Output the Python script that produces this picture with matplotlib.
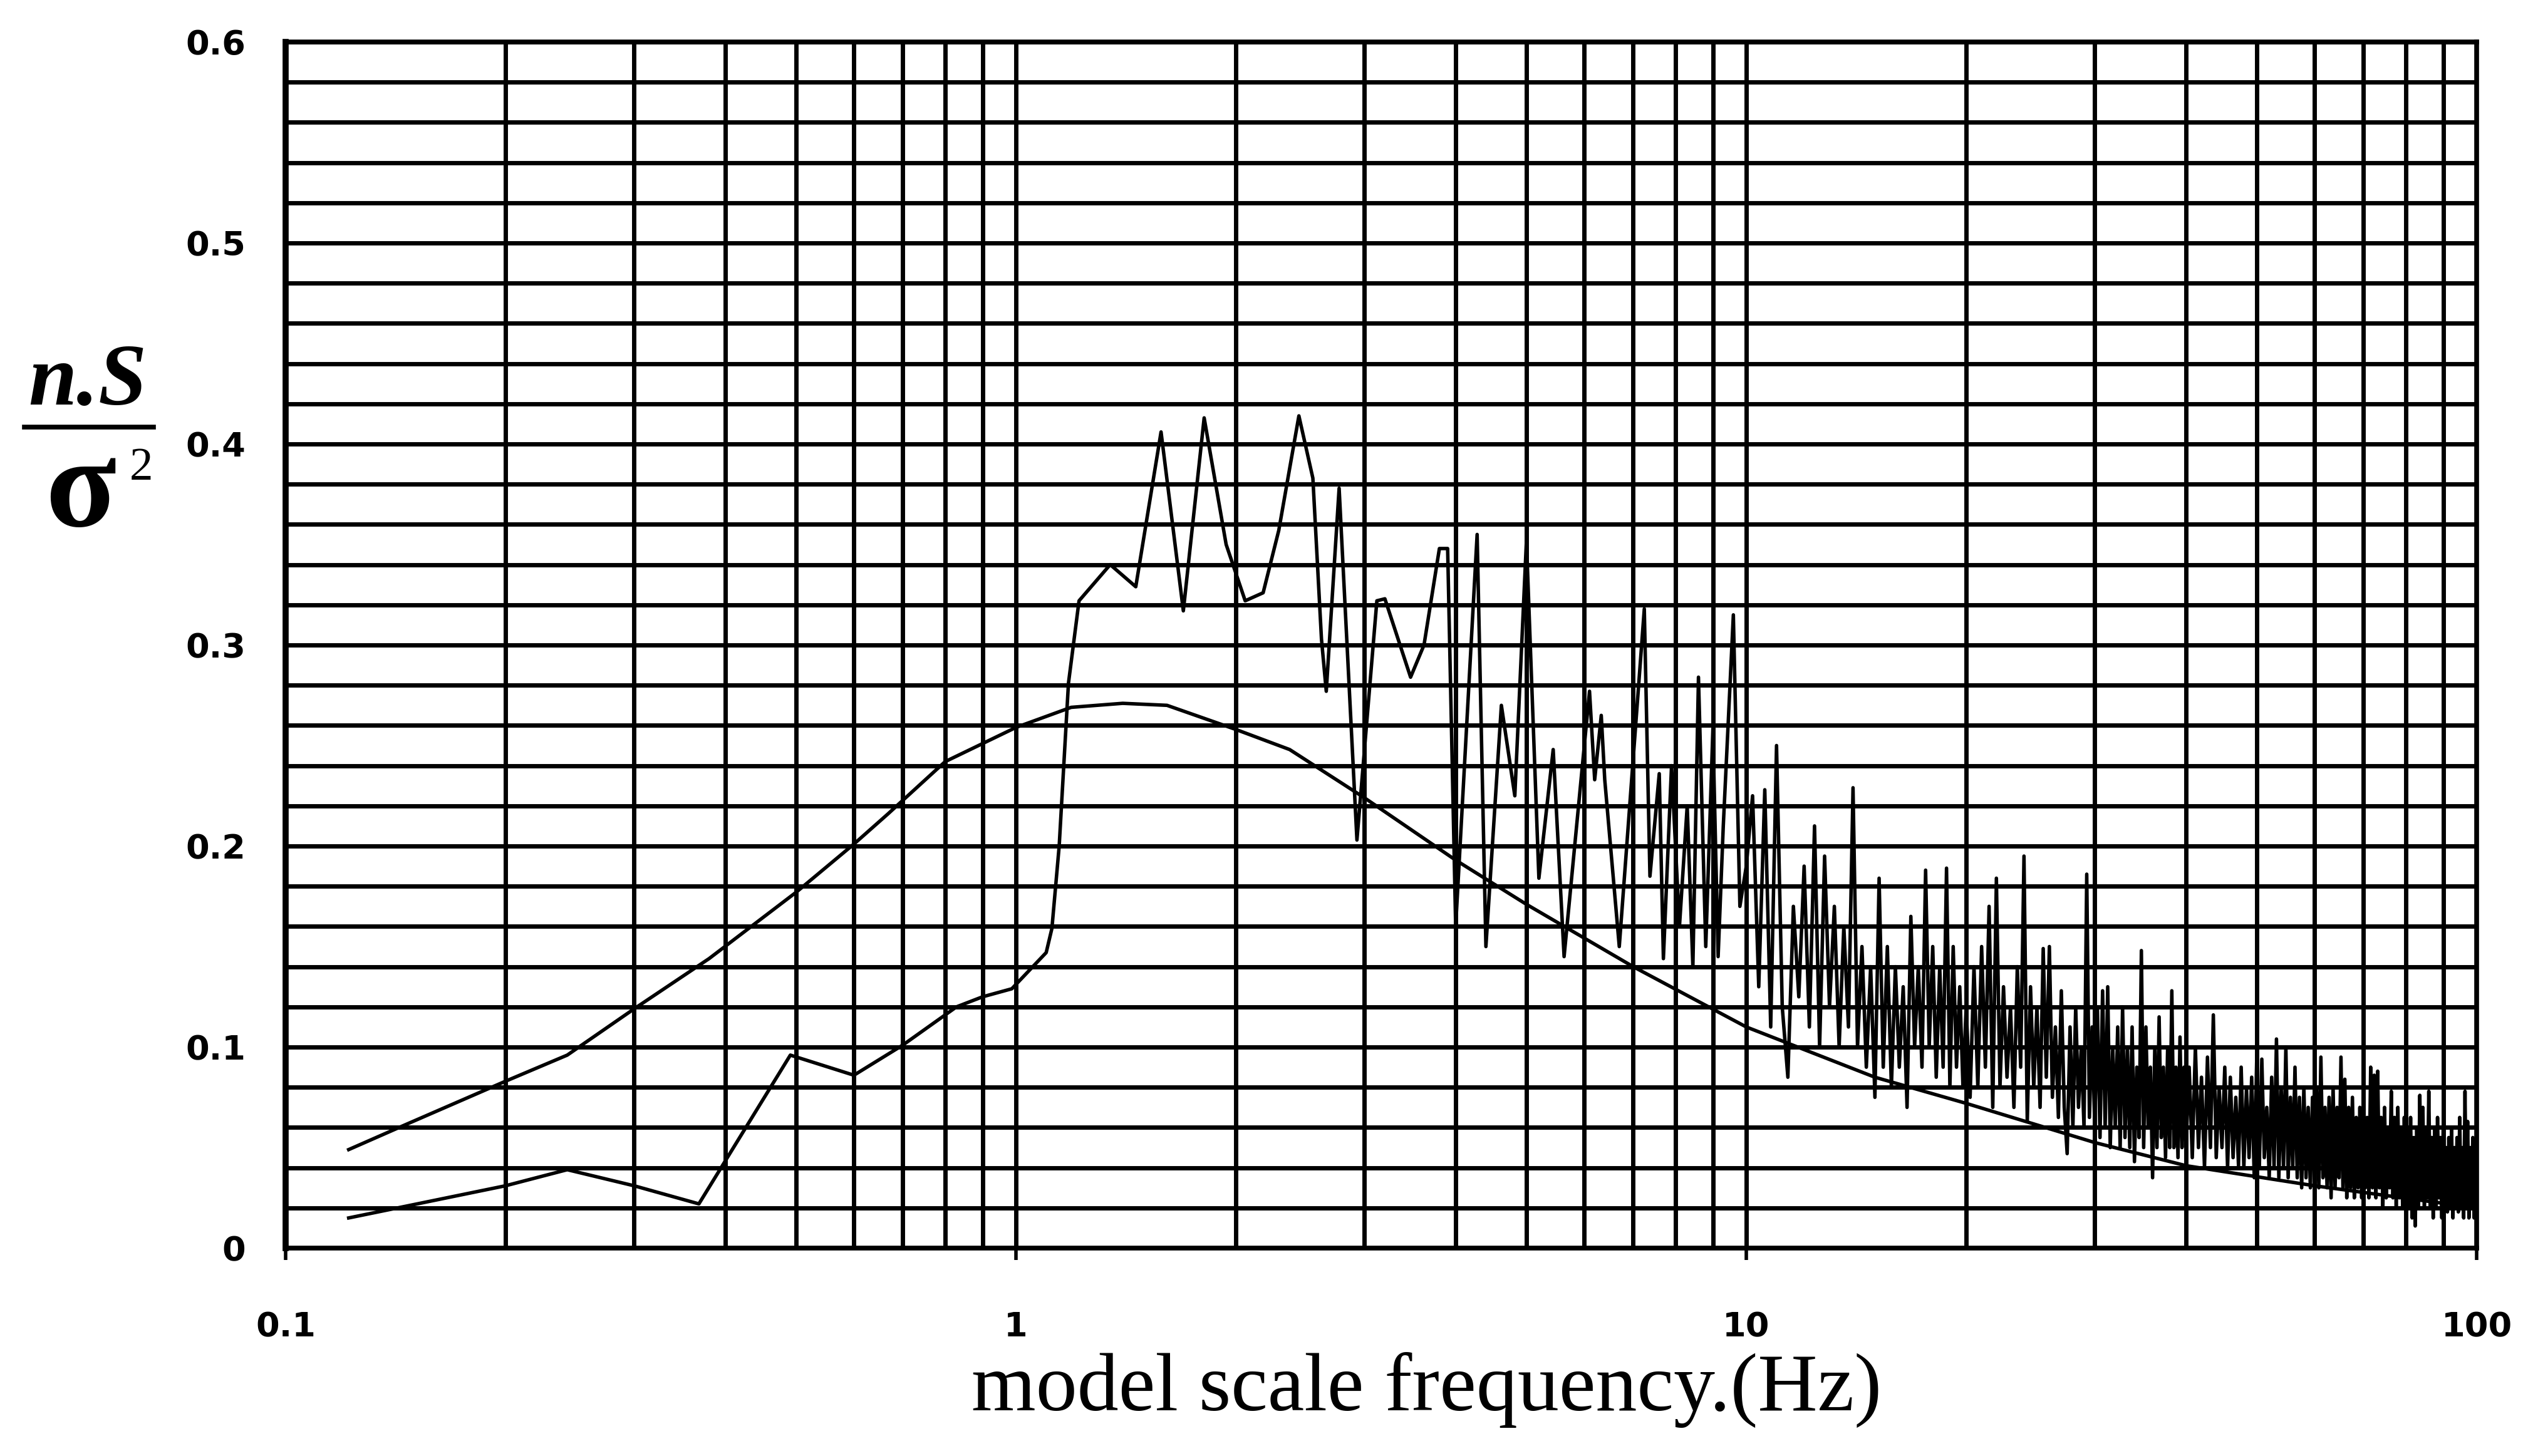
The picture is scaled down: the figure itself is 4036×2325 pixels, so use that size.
import numpy as np
import matplotlib
matplotlib.use("Agg")
import matplotlib.pyplot as plt
from matplotlib.lines import Line2D
from matplotlib.ticker import LogLocator, MultipleLocator, FixedLocator, NullFormatter

# ---------------- data ----------------
# smooth (theoretical) spectrum
smooth_f = [0.122, 0.143, 0.2, 0.243, 0.3, 0.38, 0.5, 0.6, 0.668, 0.8, 1.0, 1.19, 1.4,
            1.61, 2.0, 2.37, 3.0, 4.0, 5.0, 7.0, 10.0, 15.0, 20.0, 30.0, 40.0, 60.0, 100.0]
smooth_v = [0.049, 0.060, 0.083, 0.096, 0.119, 0.144, 0.177, 0.201, 0.216, 0.242, 0.259, 0.269, 0.271,
            0.270, 0.258, 0.248, 0.224, 0.193, 0.171, 0.140, 0.110, 0.085, 0.072, 0.0525, 0.041, 0.031, 0.020]

# measured spectrum, low-frequency part (frequency, value)
noisy_low = [
    (0.122, 0.015), (0.2, 0.031), (0.243, 0.039), (0.3, 0.031), (0.368, 0.022),
    (0.491, 0.096), (0.6, 0.086), (0.7, 0.101), (0.829, 0.120), (0.9, 0.125),
    (0.987, 0.129), (1.1, 0.147), (1.12, 0.159), (1.146, 0.200), (1.18, 0.281),
    (1.22, 0.322), (1.346, 0.340), (1.459, 0.329), (1.58, 0.406), (1.695, 0.317),
    (1.81, 0.413), (1.94, 0.350), (2.06, 0.322), (2.18, 0.326), (2.29, 0.357),
    (2.44, 0.414), (2.55, 0.383), (2.62, 0.303), (2.66, 0.277), (2.77, 0.378),
    (2.93, 0.203), (3.12, 0.322), (3.2, 0.323), (3.47, 0.284), (3.62, 0.300),
    (3.8, 0.348), (3.9, 0.348), (4.0, 0.160), (4.28, 0.355), (4.4, 0.150),
    (4.62, 0.270), (4.82, 0.225), (5.0, 0.352), (5.2, 0.184), (5.44, 0.248),
    (5.63, 0.145), (6.1, 0.277), (6.2, 0.233), (6.33, 0.265), (6.4, 0.233),
    (6.7, 0.150), (7.25, 0.318), (7.38, 0.185), (7.6, 0.236), (7.7, 0.144),
    (7.9, 0.240), (8.1, 0.160), (8.3, 0.220), (8.45, 0.140), (8.6, 0.284),
    (8.8, 0.150), (9.0, 0.258), (9.15, 0.145), (9.3, 0.210), (9.6, 0.315),
    (9.8, 0.170),
]

# measured spectrum, dense part: values on regular frequency bins
seg1_range = (10.0, 19.8)     # 0.2 Hz bins
seg1_vals = [
    0.190, 0.225, 0.130, 0.228, 0.110, 0.250, 0.120, 0.085, 0.170, 0.125,
    0.190, 0.110, 0.210, 0.100, 0.195, 0.120, 0.170, 0.100, 0.160, 0.110,
    0.229, 0.100, 0.150, 0.090, 0.140, 0.075, 0.184, 0.090, 0.150, 0.080,
    0.140, 0.090, 0.130, 0.070, 0.165, 0.100, 0.140, 0.090, 0.188, 0.100,
    0.150, 0.085, 0.140, 0.090, 0.189, 0.080, 0.150, 0.090, 0.130, 0.080,
]
seg2_range = (20.0, 39.75)    # 0.25 Hz bins
seg2_vals = [
    0.120, 0.075, 0.140, 0.080, 0.150, 0.090, 0.170, 0.070, 0.184, 0.080,
    0.130, 0.085, 0.120, 0.070, 0.140, 0.090, 0.195, 0.063, 0.130, 0.080,
    0.120, 0.070, 0.149, 0.085, 0.150, 0.075, 0.110, 0.065, 0.128, 0.070,
    0.047, 0.110, 0.060, 0.120, 0.070, 0.100, 0.060, 0.186, 0.065, 0.110,
    0.060, 0.120, 0.055, 0.128, 0.060, 0.130, 0.050, 0.100, 0.060, 0.110,
    0.050, 0.120, 0.055, 0.100, 0.050, 0.110, 0.043, 0.090, 0.055, 0.148,
    0.050, 0.110, 0.060, 0.090, 0.035, 0.100, 0.050, 0.115, 0.055, 0.090,
    0.045, 0.100, 0.050, 0.128, 0.050, 0.090, 0.045, 0.105, 0.050, 0.090,
]
seg3_range = (40.0, 99.6)     # 0.4 Hz bins
seg3_vals = [
    0.050, 0.090, 0.045, 0.100, 0.050, 0.085, 0.040, 0.095, 0.050, 0.116,
    0.045, 0.080, 0.050, 0.090, 0.040, 0.085, 0.045, 0.075, 0.041, 0.090,
    0.040, 0.080, 0.045, 0.085, 0.035, 0.096, 0.040, 0.094, 0.045, 0.070,
    0.035, 0.085, 0.040, 0.104, 0.035, 0.080, 0.040, 0.100, 0.035, 0.075,
    0.040, 0.090, 0.035, 0.075, 0.030, 0.080, 0.035, 0.070, 0.030, 0.075,
    0.035, 0.080, 0.030, 0.095, 0.035, 0.070, 0.030, 0.075, 0.025, 0.080,
    0.030, 0.070, 0.035, 0.095, 0.030, 0.084, 0.025, 0.070, 0.030, 0.075,
    0.025, 0.065, 0.030, 0.070, 0.025, 0.075, 0.030, 0.065, 0.025, 0.090,
    0.030, 0.086, 0.025, 0.088, 0.030, 0.065, 0.020, 0.070, 0.025, 0.060,
    0.030, 0.078, 0.025, 0.065, 0.020, 0.070, 0.025, 0.060, 0.020, 0.065,
    0.025, 0.060, 0.020, 0.065, 0.015, 0.055, 0.011, 0.060, 0.020, 0.076,
    0.025, 0.070, 0.020, 0.060, 0.025, 0.078, 0.020, 0.055, 0.015, 0.060,
    0.020, 0.065, 0.025, 0.055, 0.015, 0.060, 0.020, 0.050, 0.018, 0.055,
    0.020, 0.060, 0.015, 0.050, 0.020, 0.055, 0.018, 0.065, 0.020, 0.050,
    0.015, 0.078, 0.020, 0.063, 0.015, 0.050, 0.020, 0.055, 0.015, 0.040,
]
noisy_end = (100.0, 0.030)

x_ticks = [0.1, 1, 10, 100]
x_tick_labels = ['0.1', '1', '10', '100']
y_ticks = [0.0, 0.1, 0.2, 0.3, 0.4, 0.5, 0.6]
y_tick_labels = ['0', '0.1', '0.2', '0.3', '0.4', '0.5', '0.6']
x_label = 'model scale frequency.(Hz)'

# ---------------- assemble measured series ----------------
nf = [p[0] for p in noisy_low]
nv = [p[1] for p in noisy_low]
for (a, b), vals in ((seg1_range, seg1_vals), (seg2_range, seg2_vals), (seg3_range, seg3_vals)):
    nf.extend(np.linspace(a, b, len(vals)).tolist())
    nv.extend(vals)
nf.append(noisy_end[0])
nv.append(noisy_end[1])

# ---------------- figure ----------------
W, H = 4036, 2325
fig = plt.figure(figsize=(W / 100, H / 100), dpi=100)
fig.patch.set_facecolor('white')
ax = fig.add_axes([456 / W, 1 - 1993 / H, (3954 - 456) / W, (1993 - 67) / H])

ax.plot(smooth_f, smooth_v, color='black', lw=4.0, zorder=3, solid_joinstyle='round')
ax.plot(nf, nv, color='black', lw=4.0, zorder=3, solid_joinstyle='round')

ax.set_xscale('log')
ax.set_xlim(0.1, 100)
ax.set_ylim(0, 0.6)

ax.xaxis.set_major_locator(FixedLocator(x_ticks))
ax.xaxis.set_minor_locator(LogLocator(base=10, subs=[2, 3, 4, 5, 6, 7, 8, 9]))
ax.xaxis.set_minor_formatter(NullFormatter())
ax.set_xticklabels(x_tick_labels)
ax.yaxis.set_major_locator(FixedLocator(y_ticks))
ax.yaxis.set_minor_locator(MultipleLocator(0.02))
ax.set_yticklabels(y_tick_labels)

ax.grid(which='both', color='black', lw=5.0, zorder=1)
ax.set_axisbelow(True)
for s in ax.spines.values():
    s.set_linewidth(5.5)
ax.spines['left'].set_linewidth(7)

ax.tick_params(axis='x', which='major', direction='out', length=14, width=4, pad=58)
ax.tick_params(axis='x', which='minor', length=0)
ax.tick_params(axis='y', which='both', length=0, pad=46)
for lab in ax.get_xticklabels() + ax.get_yticklabels():
    lab.set_fontfamily('DejaVu Sans')
    lab.set_fontweight('bold')
    lab.set_fontsize(39)

fig.text(2278 / W, 1 - 2219 / H, x_label, ha='center', va='center',
         fontsize=95, family='Liberation Serif')

# y label as a stacked fraction n.S / sigma^2
fig.text(140 / W, 1 - 612 / H, 'n.S', ha='center', va='center',
         fontsize=100, family='Liberation Serif', fontweight='bold', fontstyle='italic')
fig.add_artist(Line2D([39 / W, 245 / W], [1 - 682 / H, 1 - 682 / H],
                      transform=fig.transFigure, color='black', lw=5.5))
fig.text(129 / W, 1 - 790 / H, 'σ', ha='center', va='center',
         fontsize=150, family='Liberation Serif', fontweight='bold')
fig.text(226 / W, 1 - 748 / H, '2', ha='center', va='center',
         fontsize=54, family='Liberation Serif')

fig.savefig('out.png', dpi=100, facecolor='white')
